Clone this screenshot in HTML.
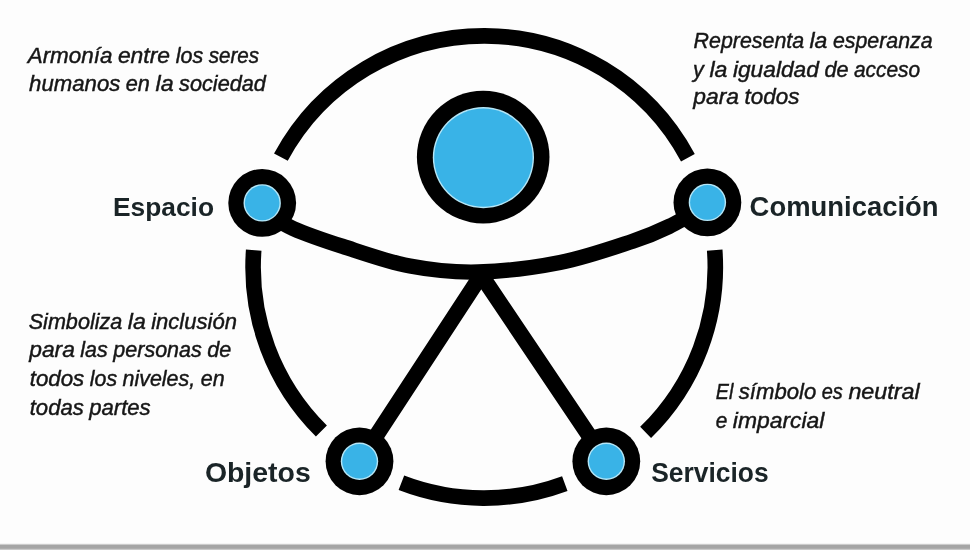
<!DOCTYPE html>
<html lang="es">
<head>
<meta charset="utf-8">
<title>Símbolo de accesibilidad universal</title>
<style>
  html, body { margin:0; padding:0; background:#fdfdfd; }
  body { width:970px; height:550px; overflow:hidden; position:relative; font-family:"Liberation Sans", sans-serif; }
  svg { position:absolute; left:0; top:0; display:block; filter:blur(0.4px); }
  .bar { position:absolute; left:0; top:543px; width:970px; height:7px;
         background:linear-gradient(to bottom, #f4f4f4 0, #f4f4f4 1px, #cbcbcb 1px, #cbcbcb 2px, #a5a5a5 2px, #a5a5a5 5px, #adadad 5px, #adadad 6px, #c9c9c9 6px, #c9c9c9 7px); }
  .it text { font-family:"Liberation Sans", sans-serif; font-style:italic; font-size:22.5px; fill:#161616; stroke:#161616; stroke-width:0.45px; }
  .bd text { font-family:"Liberation Sans", sans-serif; font-weight:bold; fill:#1a2427; }
</style>
</head>
<body>
<svg width="970" height="550" viewBox="0 0 970 550">
  <g fill="none" stroke="#000" stroke-width="15.6" stroke-linecap="butt">
    <path d="M280.9 157.1 A231.1 231.1 0 0 1 687.9 157.8"/>
    <path d="M714.7 250.1 A231.1 231.1 0 0 1 645.6 432.4"/>
    <path d="M564.8 483.6 A231.1 231.1 0 0 1 401.4 482.8"/>
    <path d="M321.4 431.0 A231.1 231.1 0 0 1 253.7 250.1"/>
  </g>
  <g fill="none" stroke="#000" stroke-width="15.3" stroke-linecap="round" stroke-linejoin="round">
    <path d="M262.3 211.0 C267.4 213.9 279.6 222.5 293.0 228.4 C306.4 234.3 323.3 240.1 342.8 246.4 C362.3 252.7 387.5 261.8 410.0 266.1 C432.5 270.4 453.0 272.6 478.0 272.0 C503.0 271.4 534.2 267.6 560.0 262.5 C585.8 257.4 614.5 247.2 632.7 241.2 C650.9 235.2 656.5 232.6 669.0 226.5 C681.5 220.5 701.1 208.6 707.5 205.0"/>
  </g>
  <g fill="none" stroke="#000" stroke-width="15.8" stroke-linecap="round" stroke-linejoin="miter">
    <path d="M359.5 461.2 L480 277"/>
    <path d="M482.5 277 L606.3 461.2"/>
  </g>
  <g>
    <circle cx="483.2" cy="157.1" r="66.3" fill="#000"/>
    <circle cx="483.4" cy="157.6" r="50.6" fill="#b5e6f7"/>
    <circle cx="483.4" cy="157.6" r="49.2" fill="#39b3e7"/>
    <circle cx="262.2" cy="202.9" r="33.9" fill="#000"/><circle cx="262.2" cy="202.9" r="18.7" fill="#b5e6f7"/><circle cx="262.2" cy="202.9" r="17.3" fill="#39b3e7"/>
    <circle cx="707.4" cy="202.4" r="33.9" fill="#000"/><circle cx="707.4" cy="202.4" r="18.7" fill="#b5e6f7"/><circle cx="707.4" cy="202.4" r="17.3" fill="#39b3e7"/>
    <circle cx="359.5" cy="461.3" r="33.9" fill="#000"/><circle cx="359.5" cy="461.3" r="18.7" fill="#b5e6f7"/><circle cx="359.5" cy="461.3" r="17.3" fill="#39b3e7"/>
    <circle cx="606.3" cy="461.3" r="33.9" fill="#000"/><circle cx="606.3" cy="461.3" r="18.7" fill="#b5e6f7"/><circle cx="606.3" cy="461.3" r="17.3" fill="#39b3e7"/>
  </g>
  <g class="it">
    <text y="62.7"><tspan x="27.7" textLength="84.7" lengthAdjust="spacingAndGlyphs">Armonía</tspan> <tspan x="117.9" textLength="52.2" lengthAdjust="spacingAndGlyphs">entre</tspan> <tspan x="175.7" textLength="27.5" lengthAdjust="spacingAndGlyphs">los</tspan> <tspan x="208.7" textLength="50.5" lengthAdjust="spacingAndGlyphs">seres</tspan></text>
    <text y="91.4"><tspan x="29.1" textLength="91.2" lengthAdjust="spacingAndGlyphs">humanos</tspan> <tspan x="125.8" textLength="24.1" lengthAdjust="spacingAndGlyphs">en</tspan> <tspan x="155.5" textLength="18.1" lengthAdjust="spacingAndGlyphs">la</tspan> <tspan x="179.1" textLength="86.8" lengthAdjust="spacingAndGlyphs">sociedad</tspan></text>
    <text y="47.8"><tspan x="693.6" textLength="110.5" lengthAdjust="spacingAndGlyphs">Representa</tspan> <tspan x="809.5" textLength="17.9" lengthAdjust="spacingAndGlyphs">la</tspan> <tspan x="832.9" textLength="99.7" lengthAdjust="spacingAndGlyphs">esperanza</tspan></text>
    <text y="76.5"><tspan x="693.1" textLength="10.8" lengthAdjust="spacingAndGlyphs">y</tspan> <tspan x="709.4" textLength="18.0" lengthAdjust="spacingAndGlyphs">la</tspan> <tspan x="732.9" textLength="86.0" lengthAdjust="spacingAndGlyphs">igualdad</tspan> <tspan x="824.4" textLength="24.1" lengthAdjust="spacingAndGlyphs">de</tspan> <tspan x="853.9" textLength="66.2" lengthAdjust="spacingAndGlyphs">acceso</tspan></text>
    <text y="103.5"><tspan x="693.3" textLength="45.7" lengthAdjust="spacingAndGlyphs">para</tspan> <tspan x="744.5" textLength="54.9" lengthAdjust="spacingAndGlyphs">todos</tspan></text>
    <text y="328.5"><tspan x="28.7" textLength="93.6" lengthAdjust="spacingAndGlyphs">Simboliza</tspan> <tspan x="127.8" textLength="18.0" lengthAdjust="spacingAndGlyphs">la</tspan> <tspan x="151.2" textLength="85.8" lengthAdjust="spacingAndGlyphs">inclusión</tspan></text>
    <text y="356.9"><tspan x="29.2" textLength="45.7" lengthAdjust="spacingAndGlyphs">para</tspan> <tspan x="80.3" textLength="27.4" lengthAdjust="spacingAndGlyphs">las</tspan> <tspan x="113.3" textLength="88.5" lengthAdjust="spacingAndGlyphs">personas</tspan> <tspan x="207.3" textLength="24.0" lengthAdjust="spacingAndGlyphs">de</tspan></text>
    <text y="385.7"><tspan x="29.7" textLength="54.6" lengthAdjust="spacingAndGlyphs">todos</tspan> <tspan x="89.8" textLength="27.3" lengthAdjust="spacingAndGlyphs">los</tspan> <tspan x="122.5" textLength="72.7" lengthAdjust="spacingAndGlyphs">niveles,</tspan> <tspan x="200.7" textLength="23.9" lengthAdjust="spacingAndGlyphs">en</tspan></text>
    <text y="415.0"><tspan x="29.7" textLength="54.1" lengthAdjust="spacingAndGlyphs">todas</tspan> <tspan x="89.2" textLength="61.5" lengthAdjust="spacingAndGlyphs">partes</tspan></text>
    <text y="399.1"><tspan x="715.8" textLength="17.5" lengthAdjust="spacingAndGlyphs">El</tspan> <tspan x="738.8" textLength="77.4" lengthAdjust="spacingAndGlyphs">símbolo</tspan> <tspan x="821.7" textLength="21.1" lengthAdjust="spacingAndGlyphs">es</tspan> <tspan x="848.4" textLength="71.3" lengthAdjust="spacingAndGlyphs">neutral</tspan></text>
    <text y="428.0"><tspan x="715.7" textLength="11.6" lengthAdjust="spacingAndGlyphs">e</tspan> <tspan x="732.8" textLength="91.6" lengthAdjust="spacingAndGlyphs">imparcial</tspan></text>
  </g>
  <g class="bd">
    <text x="113.0" y="216.0" font-size="26.5" textLength="101.0" lengthAdjust="spacingAndGlyphs">Espacio</text>
    <text x="749.6" y="216.4" font-size="27.5" textLength="189.0" lengthAdjust="spacingAndGlyphs">Comunicación</text>
    <text x="204.9" y="481.7" font-size="27" textLength="105.8" lengthAdjust="spacingAndGlyphs">Objetos</text>
    <text x="651.2" y="482.2" font-size="27.5" textLength="117.4" lengthAdjust="spacingAndGlyphs">Servicios</text>
  </g>
</svg>
<div class="bar"></div>
</body>
</html>
